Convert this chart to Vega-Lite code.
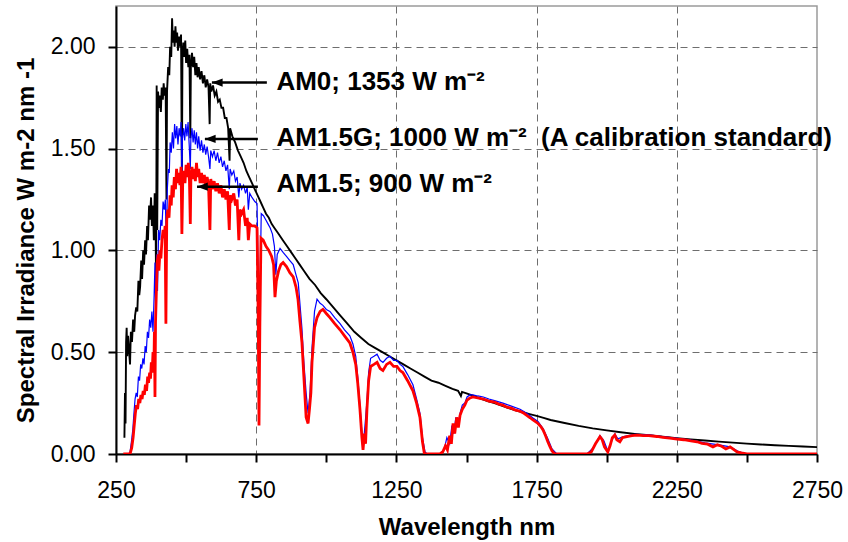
{
  "$schema": "https://vega.github.io/schema/vega-lite/v6.json",
  "width": 701,
  "height": 448,
  "autosize": {"type": "none"},
  "padding": {"left": 116, "top": 6, "right": 31, "bottom": 88},
  "background": "white",
  "config": {
    "font": "Liberation Sans",
    "view": {"stroke": "#9a9a9a", "strokeWidth": 1.5},
    "axis": {
      "labelFont": "Liberation Sans",
      "labelFontSize": 23,
      "labelColor": "black",
      "titleFont": "Liberation Sans",
      "titleFontSize": 24,
      "titleFontWeight": "bold",
      "titleColor": "black",
      "domainColor": "black",
      "domainWidth": 2,
      "tickColor": "black",
      "tickWidth": 2,
      "tickSize": 8,
      "gridColor": "#6e6e6e",
      "gridDash": [7, 5],
      "gridWidth": 1
    }
  },
  "datasets": {
    "am0": [
      {"wl": 280, "irr": 0.08}, {"wl": 282, "irr": 0.30}, {"wl": 284, "irr": 0.15}, {"wl": 286, "irr": 0.55},
      {"wl": 288, "irr": 0.62}, {"wl": 290, "irr": 0.48}, {"wl": 293, "irr": 0.58}, {"wl": 296, "irr": 0.52},
      {"wl": 300, "irr": 0.44}, {"wl": 303, "irr": 0.60}, {"wl": 307, "irr": 0.55}, {"wl": 311, "irr": 0.66},
      {"wl": 315, "irr": 0.60}, {"wl": 318, "irr": 0.68}, {"wl": 322, "irr": 0.72}, {"wl": 326, "irr": 0.70},
      {"wl": 330, "irr": 0.85}, {"wl": 333, "irr": 0.78}, {"wl": 336, "irr": 0.82}, {"wl": 340, "irr": 0.95},
      {"wl": 343, "irr": 0.86}, {"wl": 347, "irr": 1.00}, {"wl": 350, "irr": 0.93}, {"wl": 354, "irr": 1.05},
      {"wl": 357, "irr": 0.98}, {"wl": 361, "irr": 1.12}, {"wl": 364, "irr": 1.05}, {"wl": 368, "irr": 1.22},
      {"wl": 371, "irr": 1.15}, {"wl": 375, "irr": 1.26}, {"wl": 378, "irr": 1.12}, {"wl": 382, "irr": 1.22},
      {"wl": 385, "irr": 1.05}, {"wl": 388, "irr": 1.28}, {"wl": 391, "irr": 1.20}, {"wl": 393, "irr": 0.80},
      {"wl": 395, "irr": 1.81}, {"wl": 397, "irr": 1.10}, {"wl": 400, "irr": 1.78}, {"wl": 403, "irr": 1.70},
      {"wl": 406, "irr": 1.76}, {"wl": 410, "irr": 1.68}, {"wl": 413, "irr": 1.80}, {"wl": 417, "irr": 1.74},
      {"wl": 420, "irr": 1.82}, {"wl": 423, "irr": 1.76}, {"wl": 427, "irr": 1.80}, {"wl": 430, "irr": 1.25},
      {"wl": 432, "irr": 1.78}, {"wl": 436, "irr": 1.90}, {"wl": 440, "irr": 1.86}, {"wl": 443, "irr": 2.00},
      {"wl": 447, "irr": 1.95}, {"wl": 450, "irr": 2.14}, {"wl": 453, "irr": 2.02}, {"wl": 456, "irr": 2.08},
      {"wl": 459, "irr": 2.00}, {"wl": 462, "irr": 2.10}, {"wl": 465, "irr": 2.02}, {"wl": 468, "irr": 2.07},
      {"wl": 471, "irr": 1.98}, {"wl": 475, "irr": 2.05}, {"wl": 478, "irr": 2.00}, {"wl": 482, "irr": 2.06},
      {"wl": 485, "irr": 1.35}, {"wl": 487, "irr": 1.96}, {"wl": 490, "irr": 2.02}, {"wl": 494, "irr": 1.95},
      {"wl": 497, "irr": 2.03}, {"wl": 500, "irr": 1.92}, {"wl": 504, "irr": 1.99}, {"wl": 508, "irr": 1.90},
      {"wl": 512, "irr": 1.96}, {"wl": 515, "irr": 1.55}, {"wl": 517, "irr": 1.90}, {"wl": 521, "irr": 1.97},
      {"wl": 525, "irr": 1.90}, {"wl": 529, "irr": 1.95}, {"wl": 533, "irr": 1.86}, {"wl": 537, "irr": 1.92},
      {"wl": 541, "irr": 1.85}, {"wl": 545, "irr": 1.90}, {"wl": 550, "irr": 1.84}, {"wl": 555, "irr": 1.88},
      {"wl": 560, "irr": 1.82}, {"wl": 565, "irr": 1.86}, {"wl": 570, "irr": 1.80}, {"wl": 575, "irr": 1.84},
      {"wl": 580, "irr": 1.80}, {"wl": 584, "irr": 1.62}, {"wl": 586, "irr": 1.82}, {"wl": 590, "irr": 1.78},
      {"wl": 596, "irr": 1.81}, {"wl": 602, "irr": 1.76}, {"wl": 608, "irr": 1.78}, {"wl": 614, "irr": 1.73},
      {"wl": 620, "irr": 1.74}, {"wl": 626, "irr": 1.70}, {"wl": 632, "irr": 1.70}, {"wl": 638, "irr": 1.65},
      {"wl": 644, "irr": 1.65}, {"wl": 650, "irr": 1.60}, {"wl": 655, "irr": 1.44}, {"wl": 657, "irr": 1.60},
      {"wl": 665, "irr": 1.56}, {"wl": 675, "irr": 1.53}, {"wl": 685, "irr": 1.49}, {"wl": 695, "irr": 1.46},
      {"wl": 705, "irr": 1.43}, {"wl": 715, "irr": 1.39}, {"wl": 725, "irr": 1.36}, {"wl": 735, "irr": 1.33},
      {"wl": 745, "irr": 1.30}, {"wl": 755, "irr": 1.27}, {"wl": 765, "irr": 1.24}, {"wl": 775, "irr": 1.21},
      {"wl": 785, "irr": 1.18}, {"wl": 795, "irr": 1.16}, {"wl": 805, "irr": 1.13}, {"wl": 815, "irr": 1.11},
      {"wl": 830, "irr": 1.08}, {"wl": 845, "irr": 1.05}, {"wl": 860, "irr": 1.02}, {"wl": 875, "irr": 0.99},
      {"wl": 890, "irr": 0.96}, {"wl": 905, "irr": 0.93}, {"wl": 920, "irr": 0.90}, {"wl": 940, "irr": 0.86},
      {"wl": 960, "irr": 0.83}, {"wl": 980, "irr": 0.79}, {"wl": 1000, "irr": 0.76}, {"wl": 1025, "irr": 0.72},
      {"wl": 1050, "irr": 0.68}, {"wl": 1075, "irr": 0.64}, {"wl": 1100, "irr": 0.60}, {"wl": 1125, "irr": 0.57},
      {"wl": 1150, "irr": 0.54}, {"wl": 1175, "irr": 0.52}, {"wl": 1200, "irr": 0.50}, {"wl": 1225, "irr": 0.48},
      {"wl": 1250, "irr": 0.46}, {"wl": 1275, "irr": 0.44}, {"wl": 1300, "irr": 0.42}, {"wl": 1325, "irr": 0.40},
      {"wl": 1350, "irr": 0.38}, {"wl": 1375, "irr": 0.36}, {"wl": 1400, "irr": 0.35}, {"wl": 1425, "irr": 0.335},
      {"wl": 1450, "irr": 0.32}, {"wl": 1470, "irr": 0.31}, {"wl": 1480, "irr": 0.285}, {"wl": 1484, "irr": 0.305},
      {"wl": 1500, "irr": 0.298}, {"wl": 1525, "irr": 0.285}, {"wl": 1550, "irr": 0.272}, {"wl": 1575, "irr": 0.26},
      {"wl": 1600, "irr": 0.25}, {"wl": 1625, "irr": 0.238}, {"wl": 1650, "irr": 0.226}, {"wl": 1675, "irr": 0.215},
      {"wl": 1700, "irr": 0.205}, {"wl": 1725, "irr": 0.196}, {"wl": 1750, "irr": 0.187}, {"wl": 1775, "irr": 0.177},
      {"wl": 1800, "irr": 0.167}, {"wl": 1850, "irr": 0.152}, {"wl": 1900, "irr": 0.138}, {"wl": 1950, "irr": 0.126},
      {"wl": 2000, "irr": 0.116}, {"wl": 2050, "irr": 0.107}, {"wl": 2100, "irr": 0.099}, {"wl": 2150, "irr": 0.092},
      {"wl": 2200, "irr": 0.085}, {"wl": 2250, "irr": 0.078}, {"wl": 2300, "irr": 0.072}, {"wl": 2350, "irr": 0.066},
      {"wl": 2400, "irr": 0.061}, {"wl": 2450, "irr": 0.056}, {"wl": 2500, "irr": 0.051}, {"wl": 2550, "irr": 0.047},
      {"wl": 2600, "irr": 0.043}, {"wl": 2650, "irr": 0.040}, {"wl": 2700, "irr": 0.037}, {"wl": 2750, "irr": 0.034}
    ],
    "am15g": [
      {"wl": 295, "irr": 0}, {"wl": 300, "irr": 0.01}, {"wl": 305, "irr": 0.06}, {"wl": 310, "irr": 0.12},
      {"wl": 314, "irr": 0.20}, {"wl": 318, "irr": 0.27}, {"wl": 322, "irr": 0.30}, {"wl": 326, "irr": 0.28},
      {"wl": 330, "irr": 0.38}, {"wl": 334, "irr": 0.36}, {"wl": 338, "irr": 0.44}, {"wl": 342, "irr": 0.42},
      {"wl": 346, "irr": 0.47}, {"wl": 350, "irr": 0.44}, {"wl": 354, "irr": 0.53}, {"wl": 358, "irr": 0.50},
      {"wl": 362, "irr": 0.60}, {"wl": 366, "irr": 0.57}, {"wl": 370, "irr": 0.66}, {"wl": 374, "irr": 0.62},
      {"wl": 378, "irr": 0.70}, {"wl": 382, "irr": 0.60}, {"wl": 386, "irr": 0.78}, {"wl": 389, "irr": 0.94},
      {"wl": 392, "irr": 0.66}, {"wl": 395, "irr": 0.98}, {"wl": 398, "irr": 0.80}, {"wl": 402, "irr": 1.10},
      {"wl": 406, "irr": 1.05}, {"wl": 410, "irr": 1.15}, {"wl": 414, "irr": 1.12}, {"wl": 418, "irr": 1.24},
      {"wl": 422, "irr": 1.20}, {"wl": 426, "irr": 1.25}, {"wl": 430, "irr": 0.98}, {"wl": 433, "irr": 1.30},
      {"wl": 437, "irr": 1.40}, {"wl": 440, "irr": 1.38}, {"wl": 443, "irr": 1.53}, {"wl": 447, "irr": 1.48},
      {"wl": 451, "irr": 1.58}, {"wl": 455, "irr": 1.50}, {"wl": 459, "irr": 1.62}, {"wl": 463, "irr": 1.55},
      {"wl": 467, "irr": 1.61}, {"wl": 471, "irr": 1.52}, {"wl": 475, "irr": 1.60}, {"wl": 479, "irr": 1.56},
      {"wl": 482, "irr": 1.63}, {"wl": 485, "irr": 1.36}, {"wl": 487, "irr": 1.55}, {"wl": 491, "irr": 1.60},
      {"wl": 495, "irr": 1.54}, {"wl": 499, "irr": 1.62}, {"wl": 503, "irr": 1.56}, {"wl": 507, "irr": 1.63},
      {"wl": 511, "irr": 1.52}, {"wl": 515, "irr": 1.40}, {"wl": 517, "irr": 1.55}, {"wl": 521, "irr": 1.60},
      {"wl": 525, "irr": 1.53}, {"wl": 529, "irr": 1.59}, {"wl": 533, "irr": 1.52}, {"wl": 537, "irr": 1.58},
      {"wl": 541, "irr": 1.50}, {"wl": 545, "irr": 1.56}, {"wl": 550, "irr": 1.49}, {"wl": 555, "irr": 1.54},
      {"wl": 560, "irr": 1.48}, {"wl": 565, "irr": 1.52}, {"wl": 570, "irr": 1.47}, {"wl": 575, "irr": 1.51},
      {"wl": 580, "irr": 1.46}, {"wl": 585, "irr": 1.40}, {"wl": 588, "irr": 1.49}, {"wl": 594, "irr": 1.46},
      {"wl": 600, "irr": 1.49}, {"wl": 606, "irr": 1.44}, {"wl": 612, "irr": 1.48}, {"wl": 618, "irr": 1.43},
      {"wl": 624, "irr": 1.46}, {"wl": 630, "irr": 1.41}, {"wl": 636, "irr": 1.44}, {"wl": 642, "irr": 1.39},
      {"wl": 648, "irr": 1.42}, {"wl": 654, "irr": 1.30}, {"wl": 657, "irr": 1.40}, {"wl": 663, "irr": 1.37},
      {"wl": 670, "irr": 1.39}, {"wl": 676, "irr": 1.34}, {"wl": 682, "irr": 1.36}, {"wl": 688, "irr": 1.26},
      {"wl": 692, "irr": 1.33}, {"wl": 698, "irr": 1.30}, {"wl": 705, "irr": 1.32}, {"wl": 712, "irr": 1.28},
      {"wl": 718, "irr": 1.31}, {"wl": 722, "irr": 1.20}, {"wl": 727, "irr": 1.28}, {"wl": 735, "irr": 1.26},
      {"wl": 745, "irr": 1.24}, {"wl": 753, "irr": 1.23}, {"wl": 758, "irr": 0.80}, {"wl": 761, "irr": 0.35},
      {"wl": 764, "irr": 0.85}, {"wl": 768, "irr": 1.18}, {"wl": 776, "irr": 1.17}, {"wl": 784, "irr": 1.15},
      {"wl": 792, "irr": 1.13}, {"wl": 800, "irr": 1.11}, {"wl": 808, "irr": 1.08}, {"wl": 815, "irr": 1.02},
      {"wl": 820, "irr": 0.88}, {"wl": 825, "irr": 0.98}, {"wl": 835, "irr": 1.01}, {"wl": 846, "irr": 0.99},
      {"wl": 858, "irr": 0.97}, {"wl": 870, "irr": 0.95}, {"wl": 882, "irr": 0.93}, {"wl": 892, "irr": 0.88},
      {"wl": 900, "irr": 0.84}, {"wl": 907, "irr": 0.72}, {"wl": 913, "irr": 0.62}, {"wl": 920, "irr": 0.45},
      {"wl": 928, "irr": 0.30}, {"wl": 935, "irr": 0.20}, {"wl": 942, "irr": 0.30}, {"wl": 949, "irr": 0.52},
      {"wl": 958, "irr": 0.70}, {"wl": 967, "irr": 0.76}, {"wl": 978, "irr": 0.74}, {"wl": 988, "irr": 0.73},
      {"wl": 1000, "irr": 0.71}, {"wl": 1013, "irr": 0.70}, {"wl": 1030, "irr": 0.67}, {"wl": 1049, "irr": 0.64},
      {"wl": 1065, "irr": 0.61}, {"wl": 1084, "irr": 0.58}, {"wl": 1095, "irr": 0.54}, {"wl": 1105, "irr": 0.48},
      {"wl": 1112, "irr": 0.38}, {"wl": 1120, "irr": 0.24}, {"wl": 1127, "irr": 0.10}, {"wl": 1132, "irr": 0.05},
      {"wl": 1138, "irr": 0.14}, {"wl": 1145, "irr": 0.26}, {"wl": 1151, "irr": 0.40}, {"wl": 1158, "irr": 0.47},
      {"wl": 1170, "irr": 0.48}, {"wl": 1181, "irr": 0.49}, {"wl": 1192, "irr": 0.46}, {"wl": 1202, "irr": 0.45},
      {"wl": 1215, "irr": 0.47}, {"wl": 1227, "irr": 0.48}, {"wl": 1240, "irr": 0.46}, {"wl": 1252, "irr": 0.46},
      {"wl": 1263, "irr": 0.44}, {"wl": 1273, "irr": 0.43}, {"wl": 1290, "irr": 0.39}, {"wl": 1309, "irr": 0.34},
      {"wl": 1322, "irr": 0.27}, {"wl": 1334, "irr": 0.20}, {"wl": 1343, "irr": 0.08}, {"wl": 1352, "irr": 0.01},
      {"wl": 1360, "irr": 0}, {"wl": 1405, "irr": 0}, {"wl": 1420, "irr": 0.02}, {"wl": 1430, "irr": 0.08},
      {"wl": 1440, "irr": 0.05}, {"wl": 1448, "irr": 0.14}, {"wl": 1455, "irr": 0.10}, {"wl": 1462, "irr": 0.18},
      {"wl": 1470, "irr": 0.14}, {"wl": 1477, "irr": 0.20}, {"wl": 1485, "irr": 0.24}, {"wl": 1494, "irr": 0.25},
      {"wl": 1502, "irr": 0.28}, {"wl": 1512, "irr": 0.29}, {"wl": 1523, "irr": 0.29}, {"wl": 1540, "irr": 0.285},
      {"wl": 1560, "irr": 0.28}, {"wl": 1580, "irr": 0.27}, {"wl": 1600, "irr": 0.262}, {"wl": 1630, "irr": 0.25},
      {"wl": 1660, "irr": 0.235}, {"wl": 1691, "irr": 0.22}, {"wl": 1715, "irr": 0.20}, {"wl": 1737, "irr": 0.177},
      {"wl": 1755, "irr": 0.16}, {"wl": 1773, "irr": 0.125}, {"wl": 1790, "irr": 0.075}, {"wl": 1805, "irr": 0.025},
      {"wl": 1822, "irr": 0}, {"wl": 1930, "irr": 0}, {"wl": 1955, "irr": 0.035}, {"wl": 1976, "irr": 0.09},
      {"wl": 1990, "irr": 0.065}, {"wl": 2004, "irr": 0.015}, {"wl": 2015, "irr": 0.055}, {"wl": 2029, "irr": 0.098},
      {"wl": 2040, "irr": 0.075}, {"wl": 2060, "irr": 0.085}, {"wl": 2100, "irr": 0.097}, {"wl": 2150, "irr": 0.094},
      {"wl": 2200, "irr": 0.086}, {"wl": 2251, "irr": 0.077}, {"wl": 2300, "irr": 0.068}, {"wl": 2350, "irr": 0.055},
      {"wl": 2400, "irr": 0.045}, {"wl": 2440, "irr": 0.035}, {"wl": 2470, "irr": 0.012}, {"wl": 2500, "irr": 0},
      {"wl": 2750, "irr": 0}
    ],
    "am15": [
      {"wl": 276, "irr": 0}, {"wl": 300, "irr": 0}, {"wl": 306, "irr": 0.03}, {"wl": 311, "irr": 0.08},
      {"wl": 315, "irr": 0.14}, {"wl": 319, "irr": 0.20}, {"wl": 323, "irr": 0.24}, {"wl": 327, "irr": 0.22},
      {"wl": 331, "irr": 0.27}, {"wl": 335, "irr": 0.25}, {"wl": 339, "irr": 0.29}, {"wl": 343, "irr": 0.27},
      {"wl": 347, "irr": 0.31}, {"wl": 351, "irr": 0.29}, {"wl": 355, "irr": 0.34}, {"wl": 359, "irr": 0.31},
      {"wl": 363, "irr": 0.38}, {"wl": 366, "irr": 0.35}, {"wl": 370, "irr": 0.40}, {"wl": 373, "irr": 0.37},
      {"wl": 376, "irr": 0.45}, {"wl": 379, "irr": 0.40}, {"wl": 382, "irr": 0.50}, {"wl": 385, "irr": 0.42},
      {"wl": 387, "irr": 0.60}, {"wl": 389, "irr": 0.28}, {"wl": 391, "irr": 0.65}, {"wl": 394, "irr": 0.80},
      {"wl": 397, "irr": 0.94}, {"wl": 400, "irr": 0.98}, {"wl": 403, "irr": 0.90}, {"wl": 407, "irr": 1.00},
      {"wl": 410, "irr": 0.96}, {"wl": 414, "irr": 1.05}, {"wl": 418, "irr": 1.10}, {"wl": 422, "irr": 1.06},
      {"wl": 425, "irr": 1.12}, {"wl": 428, "irr": 0.64}, {"wl": 431, "irr": 1.15}, {"wl": 435, "irr": 1.20},
      {"wl": 439, "irr": 1.16}, {"wl": 443, "irr": 1.27}, {"wl": 447, "irr": 1.22}, {"wl": 450, "irr": 1.32},
      {"wl": 454, "irr": 1.26}, {"wl": 458, "irr": 1.36}, {"wl": 462, "irr": 1.30}, {"wl": 466, "irr": 1.40},
      {"wl": 470, "irr": 1.33}, {"wl": 474, "irr": 1.38}, {"wl": 478, "irr": 1.32}, {"wl": 482, "irr": 1.41},
      {"wl": 485, "irr": 1.08}, {"wl": 488, "irr": 1.34}, {"wl": 492, "irr": 1.39}, {"wl": 496, "irr": 1.33},
      {"wl": 500, "irr": 1.42}, {"wl": 504, "irr": 1.36}, {"wl": 508, "irr": 1.43}, {"wl": 512, "irr": 1.34},
      {"wl": 515, "irr": 1.13}, {"wl": 517, "irr": 1.35}, {"wl": 521, "irr": 1.41}, {"wl": 525, "irr": 1.35},
      {"wl": 529, "irr": 1.40}, {"wl": 533, "irr": 1.34}, {"wl": 537, "irr": 1.43}, {"wl": 541, "irr": 1.36},
      {"wl": 545, "irr": 1.40}, {"wl": 550, "irr": 1.33}, {"wl": 555, "irr": 1.38}, {"wl": 560, "irr": 1.33},
      {"wl": 565, "irr": 1.37}, {"wl": 570, "irr": 1.31}, {"wl": 575, "irr": 1.36}, {"wl": 580, "irr": 1.32},
      {"wl": 585, "irr": 1.10}, {"wl": 588, "irr": 1.35}, {"wl": 594, "irr": 1.30}, {"wl": 600, "irr": 1.34},
      {"wl": 606, "irr": 1.29}, {"wl": 612, "irr": 1.33}, {"wl": 618, "irr": 1.28}, {"wl": 624, "irr": 1.32},
      {"wl": 630, "irr": 1.26}, {"wl": 636, "irr": 1.30}, {"wl": 642, "irr": 1.25}, {"wl": 648, "irr": 1.29},
      {"wl": 654, "irr": 1.10}, {"wl": 657, "irr": 1.27}, {"wl": 663, "irr": 1.25}, {"wl": 670, "irr": 1.28},
      {"wl": 676, "irr": 1.22}, {"wl": 682, "irr": 1.25}, {"wl": 688, "irr": 1.05}, {"wl": 692, "irr": 1.20},
      {"wl": 698, "irr": 1.18}, {"wl": 705, "irr": 1.20}, {"wl": 712, "irr": 1.12}, {"wl": 718, "irr": 1.16},
      {"wl": 722, "irr": 1.05}, {"wl": 727, "irr": 1.13}, {"wl": 735, "irr": 1.12}, {"wl": 745, "irr": 1.12},
      {"wl": 753, "irr": 1.11}, {"wl": 757, "irr": 0.70}, {"wl": 760, "irr": 0.14}, {"wl": 763, "irr": 0.62},
      {"wl": 767, "irr": 1.06}, {"wl": 775, "irr": 1.05}, {"wl": 785, "irr": 1.02}, {"wl": 795, "irr": 1.00},
      {"wl": 805, "irr": 0.97}, {"wl": 812, "irr": 0.93}, {"wl": 817, "irr": 0.77}, {"wl": 822, "irr": 0.85},
      {"wl": 830, "irr": 0.90}, {"wl": 838, "irr": 0.93}, {"wl": 846, "irr": 0.94}, {"wl": 858, "irr": 0.92},
      {"wl": 870, "irr": 0.89}, {"wl": 882, "irr": 0.87}, {"wl": 892, "irr": 0.82}, {"wl": 899, "irr": 0.76},
      {"wl": 906, "irr": 0.65}, {"wl": 913, "irr": 0.55}, {"wl": 920, "irr": 0.38}, {"wl": 928, "irr": 0.18},
      {"wl": 935, "irr": 0.15}, {"wl": 940, "irr": 0.22}, {"wl": 945, "irr": 0.30}, {"wl": 949, "irr": 0.45},
      {"wl": 958, "irr": 0.62}, {"wl": 967, "irr": 0.67}, {"wl": 978, "irr": 0.70}, {"wl": 988, "irr": 0.71},
      {"wl": 1000, "irr": 0.69}, {"wl": 1013, "irr": 0.67}, {"wl": 1030, "irr": 0.64}, {"wl": 1049, "irr": 0.61},
      {"wl": 1065, "irr": 0.58}, {"wl": 1084, "irr": 0.545}, {"wl": 1095, "irr": 0.50}, {"wl": 1105, "irr": 0.44},
      {"wl": 1112, "irr": 0.35}, {"wl": 1120, "irr": 0.22}, {"wl": 1127, "irr": 0.08}, {"wl": 1131, "irr": 0.02},
      {"wl": 1136, "irr": 0.10}, {"wl": 1140, "irr": 0.05}, {"wl": 1145, "irr": 0.22}, {"wl": 1151, "irr": 0.36},
      {"wl": 1158, "irr": 0.43}, {"wl": 1170, "irr": 0.44}, {"wl": 1181, "irr": 0.45}, {"wl": 1192, "irr": 0.42},
      {"wl": 1202, "irr": 0.41}, {"wl": 1215, "irr": 0.44}, {"wl": 1227, "irr": 0.45}, {"wl": 1240, "irr": 0.43},
      {"wl": 1252, "irr": 0.43}, {"wl": 1263, "irr": 0.41}, {"wl": 1273, "irr": 0.40}, {"wl": 1290, "irr": 0.36},
      {"wl": 1309, "irr": 0.31}, {"wl": 1322, "irr": 0.25}, {"wl": 1334, "irr": 0.18}, {"wl": 1343, "irr": 0.06},
      {"wl": 1350, "irr": 0}, {"wl": 1405, "irr": 0}, {"wl": 1415, "irr": 0.01}, {"wl": 1425, "irr": 0.04},
      {"wl": 1432, "irr": 0.02}, {"wl": 1440, "irr": 0.09}, {"wl": 1446, "irr": 0.05}, {"wl": 1452, "irr": 0.15},
      {"wl": 1458, "irr": 0.10}, {"wl": 1465, "irr": 0.18}, {"wl": 1471, "irr": 0.13}, {"wl": 1477, "irr": 0.19},
      {"wl": 1485, "irr": 0.22}, {"wl": 1494, "irr": 0.24}, {"wl": 1502, "irr": 0.265}, {"wl": 1512, "irr": 0.275},
      {"wl": 1523, "irr": 0.28}, {"wl": 1540, "irr": 0.275}, {"wl": 1560, "irr": 0.27}, {"wl": 1580, "irr": 0.26},
      {"wl": 1600, "irr": 0.255}, {"wl": 1615, "irr": 0.245}, {"wl": 1630, "irr": 0.24}, {"wl": 1645, "irr": 0.23},
      {"wl": 1660, "irr": 0.225}, {"wl": 1675, "irr": 0.215}, {"wl": 1691, "irr": 0.21}, {"wl": 1705, "irr": 0.20},
      {"wl": 1715, "irr": 0.19}, {"wl": 1727, "irr": 0.178}, {"wl": 1737, "irr": 0.167}, {"wl": 1755, "irr": 0.15},
      {"wl": 1765, "irr": 0.135}, {"wl": 1773, "irr": 0.118}, {"wl": 1782, "irr": 0.09}, {"wl": 1790, "irr": 0.06},
      {"wl": 1798, "irr": 0.035}, {"wl": 1805, "irr": 0.015}, {"wl": 1815, "irr": 0}, {"wl": 1930, "irr": 0},
      {"wl": 1945, "irr": 0.01}, {"wl": 1960, "irr": 0.05}, {"wl": 1976, "irr": 0.085}, {"wl": 1984, "irr": 0.07},
      {"wl": 1992, "irr": 0.035}, {"wl": 2004, "irr": 0.01}, {"wl": 2012, "irr": 0.04}, {"wl": 2020, "irr": 0.08},
      {"wl": 2029, "irr": 0.093}, {"wl": 2036, "irr": 0.07}, {"wl": 2047, "irr": 0.06}, {"wl": 2056, "irr": 0.08},
      {"wl": 2072, "irr": 0.085}, {"wl": 2090, "irr": 0.09}, {"wl": 2108, "irr": 0.093}, {"wl": 2130, "irr": 0.09},
      {"wl": 2150, "irr": 0.09}, {"wl": 2179, "irr": 0.086}, {"wl": 2200, "irr": 0.082}, {"wl": 2225, "irr": 0.078},
      {"wl": 2251, "irr": 0.073}, {"wl": 2275, "irr": 0.07}, {"wl": 2300, "irr": 0.064}, {"wl": 2322, "irr": 0.06},
      {"wl": 2340, "irr": 0.052}, {"wl": 2360, "irr": 0.048}, {"wl": 2379, "irr": 0.035}, {"wl": 2395, "irr": 0.045},
      {"wl": 2410, "irr": 0.038}, {"wl": 2425, "irr": 0.025}, {"wl": 2440, "irr": 0.035}, {"wl": 2455, "irr": 0.02},
      {"wl": 2465, "irr": 0.01}, {"wl": 2480, "irr": 0.005}, {"wl": 2500, "irr": 0}, {"wl": 2750, "irr": 0}
    ],
    "notes": [
      {"series": "AM0", "wl": 592, "wl2": 788, "irr": 1.824, "label_irr": 1.788, "label": "AM0; 1353 W m⁻²"},
      {"series": "AM1.5G", "wl": 567, "wl2": 756, "irr": 1.547, "label_irr": 1.513, "label": "AM1.5G; 1000 W m⁻²\u00a0\u00a0(A calibration standard)"},
      {"series": "AM1.5", "wl": 539, "wl2": 756, "irr": 1.313, "label_irr": 1.287, "label": "AM1.5; 900 W m⁻²"}
    ]
  },
  "encoding": {
    "x": {
      "field": "wl",
      "type": "quantitative",
      "scale": {"domain": [250, 2750], "nice": false, "zero": false},
      "axis": {
        "title": "Wavelength nm",
        "values": [250, 500, 750, 1000, 1250, 1500, 1750, 2000, 2250, 2500, 2750],
        "format": "d",
        "labelExpr": "(datum.value - 250) % 500 == 0 ? datum.label : ''",
        "labelPadding": 17,
        "titlePadding": 13,
        "labelFlush": false,
        "grid": true,
        "gridOpacity": {"condition": {"test": "datum.value == 750 || datum.value == 1250 || datum.value == 1750 || datum.value == 2250", "value": 1}, "value": 0}
      }
    },
    "y": {
      "field": "irr",
      "type": "quantitative",
      "scale": {"domain": [0, 2.2], "nice": false},
      "axis": {
        "title": "Spectral Irradiance W m-2 nm -1",
        "values": [0, 0.5, 1, 1.5, 2],
        "format": ".2f",
        "labelPadding": 13,
        "titlePadding": 12,
        "titleY": 234,
        "labelFlush": false,
        "grid": true
      }
    }
  },
  "layer": [
    {
      "data": {"name": "am0"},
      "mark": {"type": "line", "color": "black", "strokeWidth": 1.9, "clip": true}
    },
    {
      "data": {"name": "am15g"},
      "mark": {"type": "line", "color": "#0000ff", "strokeWidth": 1.2, "clip": true}
    },
    {
      "data": {"name": "am15"},
      "mark": {"type": "line", "color": "#ff0000", "strokeWidth": 2.8, "clip": true}
    },
    {
      "data": {"name": "notes"},
      "mark": {"type": "rule", "color": "black", "strokeWidth": 2.5},
      "encoding": {"x2": {"field": "wl2"}}
    },
    {
      "data": {"name": "notes"},
      "mark": {"type": "point", "shape": "M0,0L3.4,-1.3L3.4,1.3Z", "filled": true, "color": "black", "opacity": 1, "size": 40}
    },
    {
      "data": {"name": "notes"},
      "mark": {"type": "text", "align": "left", "baseline": "alphabetic", "font": "Liberation Sans", "fontWeight": "bold", "fontSize": 26, "color": "black"},
      "encoding": {
        "x": {"datum": 822, "type": "quantitative"},
        "y": {"field": "label_irr", "type": "quantitative"},
        "text": {"field": "label"}
      }
    }
  ]
}
